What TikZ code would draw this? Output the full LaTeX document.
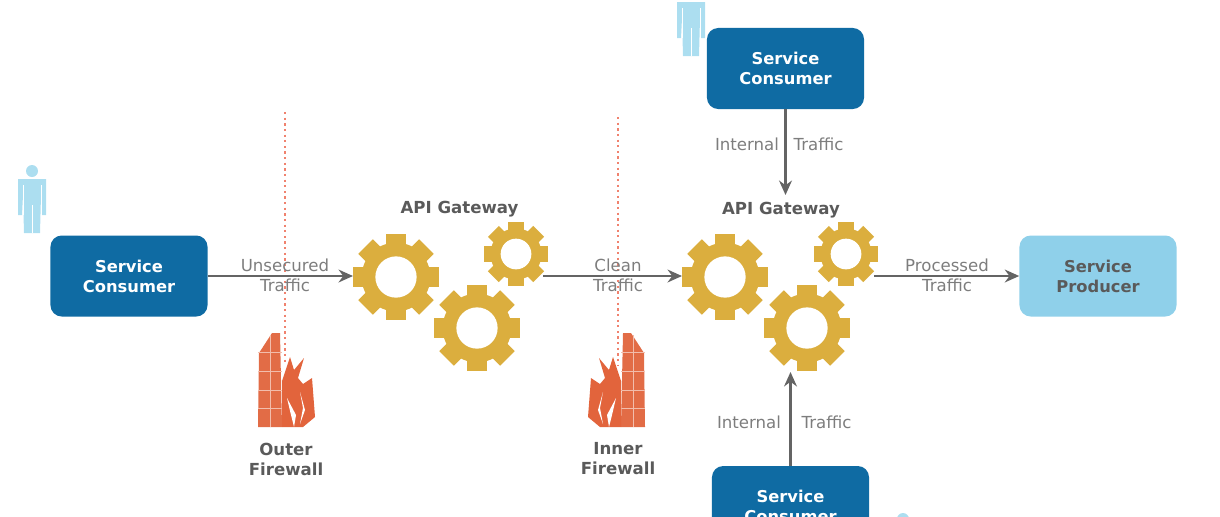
\documentclass[tikz,border=0pt]{standalone}
\usepackage{fontspec}
\setmainfont{DejaVu Sans}
\usetikzlibrary{arrows.meta, positioning, calc}
\definecolor{boxblue}{RGB}{15,107,163}
\definecolor{paleblue}{RGB}{143,208,234}
\definecolor{personblue}{RGB}{172,222,240}
\definecolor{gearyellow}{RGB}{219,174,62}
\definecolor{fireorange}{RGB}{226,100,60}
\definecolor{wallorange}{RGB}{226,108,70}
\definecolor{dotred}{RGB}{240,130,110}
\definecolor{labelgray}{RGB}{125,125,125}
\definecolor{titlegray}{RGB}{90,90,90}
\definecolor{linegray}{RGB}{100,100,100}
\tikzset{
    svcbox/.style={rectangle, rounded corners=8pt, minimum width=3.925cm, minimum height=2.025cm,
                   align=center, fill=boxblue, text=white, font=\fontsize{11.6}{14.2}\selectfont\bfseries},
    producer/.style={svcbox, fill=paleblue, text=titlegray},
    arrow/.style={line width=1.7pt,-{Stealth[length=3.6mm,width=3.2mm]},linegray},
    lbl/.style={align=center, text=labelgray, font=\fontsize{11.8}{14.2}\selectfont},
    title/.style={align=center, text=titlegray, font=\fontsize{11.8}{14.2}\selectfont\bfseries},
    fwline/.style={dotred, line width=1.6pt, dash pattern=on 1.6pt off 2.4pt},
    pics/gear/.style={code={
        \node[circle, minimum size=#1*0.05cm, inner sep=0pt, outer sep=0pt] (-hub) {};
        \foreach \a in {0,45,...,315}
            \fill[gearyellow, rotate=\a] ({-0.24*#1},{0.6*#1}) rectangle ({0.24*#1},{#1});
        \fill[gearyellow] (0,0) circle ({0.8*#1});
        \fill[white] (0,0) circle ({0.48*#1});
    }},
    pics/person/.style={code={
        \fill[personblue] (0,0) circle (6);
        \fill[personblue] (-14,8) -- (14,8) -- (14,44) -- (10,44) -- (9,24) -- (8,62) -- (-8,62) -- (-9,24) -- (-10,44) -- (-14,44) -- cycle;
        \draw[white, line width=0.5pt] (0,34) -- (0,62);
        \draw[white, line width=0.5pt] (-9,14) -- (-9,44);
        \draw[white, line width=0.5pt] (9,14) -- (9,44);
    }},
    pics/firewall/.style={code={
        % brick tower
        \fill[wallorange] (258,427) -- (259,353) -- (272,333) -- (280,333) -- (282,427) -- cycle;
        \foreach \y in {352,371,390,408}
            \draw[white!55!wallorange, line width=0.5pt] (258,\y) -- (282,\y);
        \draw[white!55!wallorange, line width=0.5pt] (270,335) -- (270,427);
        % flames
        \fill[fireorange] (282,381) -- (290,357) -- (294,370) -- (304,358) -- (298,378) -- (303,384) -- (312,378) -- (315,417) -- (303,427) -- (282,427) -- cycle;
        \fill[white] (287,398) -- (296,415) -- (294,427) -- (291,415) -- cycle;
        \fill[white] (300,392) -- (305,410) -- (300,424) -- (303,408) -- cycle;
    }}
}

\begin{document}
\begin{tikzpicture}[x=0.025cm, y=-0.025cm]
    \useasboundingbox (0,0) rectangle (1220,516);
    \clip (0,0) rectangle (1220,516);

    % Firewall lines
    \coordinate (outertop) at (285,112);
    \coordinate (outerbase) at (285,365);
    \coordinate (innertop) at (618,117);
    \coordinate (innerbase) at (618,365);
    \draw[fwline] (outertop) -- (outerbase);
    \draw[fwline] (innertop) -- (innerbase);

    % Firewalls
    \pic at (0,0) {firewall};
    \pic[xscale=-1] at (903,0) {firewall};

    % People
    \pic at (32,171) {person};
    \pic at (691,-6) {person};
    \pic at (903,519) {person};

    % Service boxes
    \node[svcbox] (consleft) at (129,276) {Service\\Consumer};
    \node[svcbox] (constop) at (785.5,68.5) {Service\\Consumer};
    \node[svcbox] (consbottom) at (790.5,506.5) {Service\\Consumer};
    \node[producer] (prod) at (1098,276) {Service\\Producer};

    % Gateway gears
    \pic (gwa) at (396,277) {gear=43};
    \pic (gwb) at (477,328) {gear=43};
    \pic (gwc) at (516,254) {gear=32};
    \pic (gwd) at (725,277) {gear=43};
    \pic (gwe) at (807,328) {gear=43};
    \pic (gwf) at (846,254) {gear=32};

    % Traffic
    \coordinate (cleanout) at (543,276);
    \coordinate (procout) at (874,276);
    \coordinate (topin) at (785.5,195);
    \coordinate (bottomin) at (790.5,372);
    \draw[arrow] (consleft.east) -- (consleft.east -| gwa-hub.west);
    \draw[arrow] (cleanout) -- (cleanout -| gwd-hub.west);
    \draw[arrow] (procout) -- (prod.west);
    \draw[arrow] (constop.south) -- (topin);
    \draw[arrow] (consbottom.north) -- (bottomin);

    % Labels
    \node[lbl] (lblunsec) at (285,275.5) {Unsecured\\Traffic};
    \node[lbl] (lblclean) at (618,275.5) {Clean\\Traffic};
    \node[lbl] (lblproc) at (947,275.5) {Processed\\Traffic};
    \node[lbl] (lbltopa) at (747,144) {Internal};
    \node[lbl] (lbltopb) at (818.5,144) {Traffic};
    \node[lbl] (lblbota) at (749,422) {Internal};
    \node[lbl] (lblbotb) at (826.5,422) {Traffic};
    \node[title] (gwtitlea) at (459.5,209.5) {API Gateway};
    \node[title] (gwtitleb) at (781,210.5) {API Gateway};
    \node[title] (outerlbl) at (286,459.5) {Outer\\Firewall};
    \node[title] (innerlbl) at (618,458.5) {Inner\\Firewall};
\end{tikzpicture}
\end{document}
